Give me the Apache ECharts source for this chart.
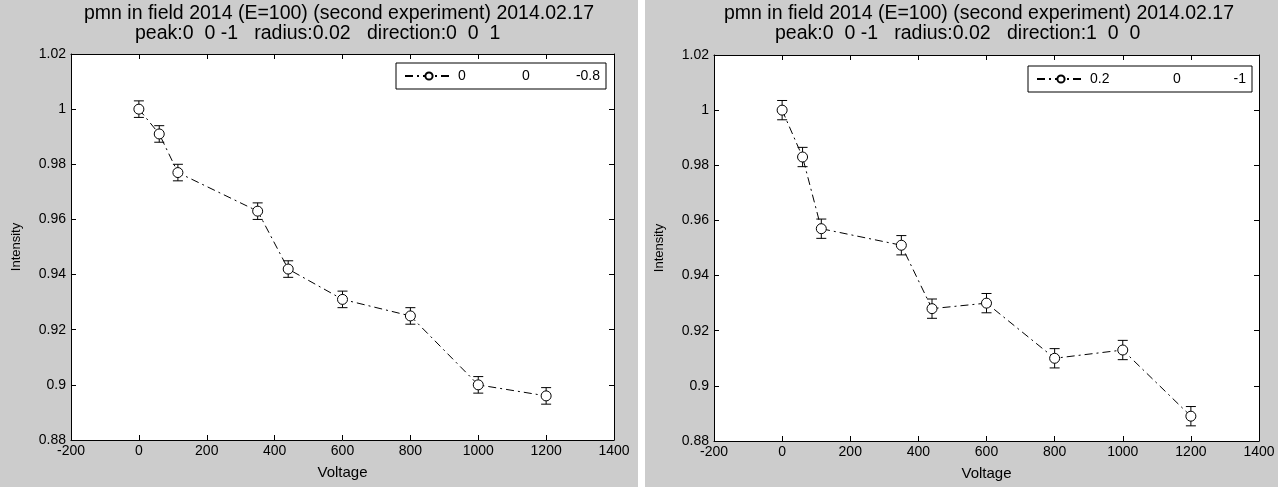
<!DOCTYPE html>
<html>
<head>
<meta charset="utf-8">
<script src="https://cdn.jsdelivr.net/npm/echarts@6/dist/echarts.min.js"></script>
<style>
  body { margin: 0; background: #fff; }
  .panel { position: absolute; top: 0; height: 487px; background: #cccccc; }
  #left { left: 0; width: 638px; }
  #right { left: 645px; width: 633px; }
</style>
</head>
<body>
<div id="left" class="panel"></div>
<div id="right" class="panel"></div>
<script>
// 电压点 (两个图共用)
const voltage = [0, 60, 115, 350, 440, 600, 800, 1000, 1200];

// 左图: direction 0 0 1
const intensityLeft = [1.000, 0.991, 0.977, 0.963, 0.942, 0.931, 0.925, 0.900, 0.896];
const errLeft = [0.003, 0.003, 0.003, 0.003, 0.003, 0.003, 0.003, 0.003, 0.003];
const legendLeft = ['0', '0', '-0.8'];

// 右图: direction 1 0 0
const intensityRight = [1.000, 0.983, 0.957, 0.951, 0.928, 0.930, 0.910, 0.913, 0.889];
const errRight = [0.0035, 0.0035, 0.0035, 0.0035, 0.0035, 0.0035, 0.0035, 0.0035, 0.0035];
const legendRight = ['0.2', '0', '-1'];

const titleLine1 = 'pmn in field 2014 (E=100) (second experiment) 2014.02.17';
const subLeft = 'peak:0  0 -1   radius:0.02   direction:0  0  1';
const subRight = 'peak:0  0 -1   radius:0.02   direction:1  0  0';

const FONT = '"Liberation Sans", Arial, sans-serif';

function buildOption(vals, errs, legendCols, sub, grid, titleX, legendPos, rich) {
  const name = legendCols.join('|');
  const barData = voltage.map((v, i) => [v, vals[i] - errs[i], vals[i] + errs[i]]);
  const tickStyle = { show: true, inside: true, length: 5, lineStyle: { color: '#000' } };
  const fmtY = v => String(parseFloat(v.toFixed(2)));
  const axLabel = { color: '#000', fontSize: 14, fontFamily: FONT };
  return {
    animation: false,
    textStyle: { fontFamily: FONT },
    graphic: [
      { type: 'text', x: titleX[0], y: 14, style: { text: titleLine1, font: '19.5px ' + FONT, fill: '#000', textAlign: 'left', textVerticalAlign: 'middle' } },
      { type: 'text', x: titleX[1], y: 34, style: { text: sub, font: '19.5px ' + FONT, fill: '#000', textAlign: 'left', textVerticalAlign: 'middle' } }
    ],
    grid: Object.assign({ backgroundColor: '#fff', show: true, borderWidth: 0 }, grid),
    legend: {
      data: [name],
      right: legendPos.right,
      top: legendPos.top,
      orient: 'vertical',
      backgroundColor: '#fff',
      borderColor: '#000',
      borderWidth: 1,
      borderRadius: 0,
      padding: [6, 6, 6, 8],
      itemWidth: 48,
      itemHeight: 9,
      formatter: () => '{a|' + legendCols[0] + '}{b|' + legendCols[1] + '}{c|' + legendCols[2] + '}',
      textStyle: {
        fontFamily: FONT,
        fontSize: 14,
        color: '#000',
        rich: {
          a: { width: rich[0], align: 'left', fontSize: 14, fontFamily: FONT },
          b: { width: 20, align: 'center', fontSize: 14, fontFamily: FONT },
          c: { width: rich[1], align: 'right', fontSize: 14, fontFamily: FONT }
        }
      }
    },
    xAxis: [
      {
        type: 'value', min: -200, max: 1400, interval: 200,
        name: 'Voltage', nameLocation: 'middle', nameGap: 25,
        nameTextStyle: { fontSize: 15, color: '#000', fontFamily: FONT },
        axisLine: { show: true, onZero: false, lineStyle: { color: '#000' } },
        axisTick: tickStyle,
        axisLabel: Object.assign({ margin: 4, formatter: v => String(v) }, axLabel),
        splitLine: { show: false }
      },
      {
        type: 'value', min: -200, max: 1400, interval: 200, position: 'top',
        axisLine: { show: true, onZero: false, lineStyle: { color: '#000' } },
        axisTick: tickStyle, axisLabel: { show: false }, splitLine: { show: false }
      }
    ],
    yAxis: [
      {
        type: 'value', min: 0.88, max: 1.02, interval: 0.02,
        name: 'Intensity', nameLocation: 'middle', nameGap: 48,
        nameTextStyle: { fontSize: 13, color: '#000', fontFamily: FONT },
        axisLine: { show: true, onZero: false, lineStyle: { color: '#000' } },
        axisTick: tickStyle,
        axisLabel: Object.assign({ margin: 5, formatter: fmtY }, axLabel),
        splitLine: { show: false }
      },
      {
        type: 'value', min: 0.88, max: 1.02, interval: 0.02, position: 'right',
        axisLine: { show: true, onZero: false, lineStyle: { color: '#000' } },
        axisTick: tickStyle, axisLabel: { show: false }, splitLine: { show: false }
      }
    ],
    series: [
      {
        name: name,
        type: 'line',
        data: voltage.map((v, i) => [v, vals[i]]),
        symbol: 'circle',
        symbolSize: 10,
        itemStyle: { color: '#fff', borderColor: '#000', borderWidth: 1 },
        lineStyle: { color: '#000', width: 1, type: [8, 4, 2, 4] },
        z: 3
      },
      {
        type: 'custom',
        data: barData,
        z: 2,
        renderItem: (params, api) => {
          const x = api.value(0);
          const lo = api.coord([x, api.value(1)]);
          const hi = api.coord([x, api.value(2)]);
          const cap = 5;
          const st = { stroke: '#000', lineWidth: 1 };
          return {
            type: 'group',
            children: [
              { type: 'line', shape: { x1: lo[0], y1: lo[1], x2: hi[0], y2: hi[1] }, style: st },
              { type: 'line', shape: { x1: lo[0] - cap, y1: lo[1], x2: lo[0] + cap, y2: lo[1] }, style: st },
              { type: 'line', shape: { x1: hi[0] - cap, y1: hi[1], x2: hi[0] + cap, y2: hi[1] }, style: st }
            ]
          };
        }
      }
    ]
  };
}

const leftChart = echarts.init(document.getElementById('left'));
leftChart.setOption(buildOption(intensityLeft, errLeft, legendLeft, subLeft,
  { left: 71, right: 24, top: 54, bottom: 47 }, [84, 135], { right: 32, top: 63 }, [58, 64]));

const rightChart = echarts.init(document.getElementById('right'));
rightChart.setOption(buildOption(intensityRight, errRight, legendRight, subRight,
  { left: 66, right: 19, top: 55, bottom: 46 }, [79, 130], { right: 26, top: 66 }, [77, 59]));
</script>
</body>
</html>
